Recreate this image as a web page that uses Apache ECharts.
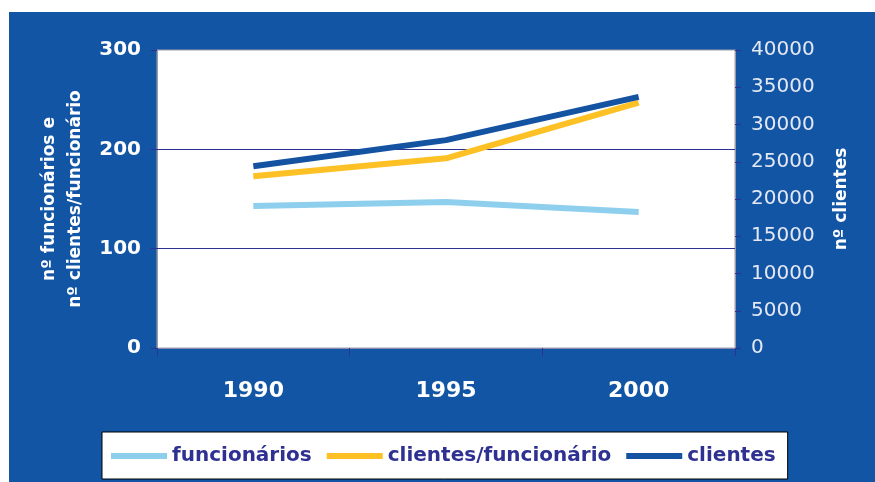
<!DOCTYPE html>
<html>
<head>
<meta charset="utf-8">
<script src="https://cdn.jsdelivr.net/npm/echarts@6/dist/echarts.min.js"></script>
<style>
  html, body { margin: 0; padding: 0; background: #fff; }
  #main { width: 875px; height: 482px; }
</style>
</head>
<body>
<div id="main"></div>
<script>
// valores
var anos = ['1990', '1995', '2000'];
var funcionarios = [143, 147, 137];
var clientesPorFuncionario = [173, 191, 247];
var clientes = [24400, 27900, 33700];

var esqTicks = { min: 0, max: 300, interval: 100 };
var dirTicks = { min: 0, max: 40000, interval: 5000 };
var linhasGrade = [100, 200];

var fundo = '#1155a4';
var navy = '#2e3192';
var fonte = 'DejaVu Sans';

var chart = echarts.init(document.getElementById('main'));

chart.setOption({
  backgroundColor: '#fff',
  animation: false,
  graphic: [{
    type: 'rect',
    z: -10,
    shape: { x: 9, y: 12, width: 866, height: 470 },
    style: { fill: fundo }
  }],
  grid: {
    left: 157, top: 50, right: 140, bottom: 134,
    show: true,
    backgroundColor: '#fff',
    borderColor: '#a0a0a8',
    borderWidth: 1
  },
  legend: {
    left: 102, top: 432,
    padding: [14, 12, 13, 9],
    backgroundColor: '#fff',
    borderColor: '#000',
    borderWidth: 1,
    borderRadius: 0,
    icon: 'rect',
    itemWidth: 56,
    itemHeight: 6,
    itemGap: 15,
    textStyle: { color: navy, fontFamily: fonte, fontWeight: 'bold', fontSize: 20 },
    data: ['funcionários', 'clientes/funcionário', 'clientes']
  },
  xAxis: {
    type: 'category',
    data: anos,
    boundaryGap: true,
    axisLine: { lineStyle: { color: '#8a8ab8', width: 1 } },
    axisTick: { show: true, length: 8, lineStyle: { color: navy } },
    axisLabel: { color: '#fff', fontFamily: fonte, fontWeight: 'bold', fontSize: 22, margin: 32 }
  },
  yAxis: [{
    type: 'value',
    min: esqTicks.min, max: esqTicks.max, interval: esqTicks.interval,
    position: 'left',
    name: 'nº funcionários e\nnº clientes/funcionário',
    nameLocation: 'middle',
    nameRotate: 90,
    nameGap: 66,
    nameTextStyle: { color: '#fff', fontFamily: fonte, fontWeight: 'bold', fontSize: 17, lineHeight: 26 },
    axisLine: { show: true, lineStyle: { color: '#9a9aaa' } },
    axisTick: { show: true, length: 6, lineStyle: { color: navy } },
    axisLabel: { color: '#fff', fontFamily: fonte, fontWeight: 'bold', fontSize: 20, margin: 16 },
    splitLine: { show: false }
  }, {
    type: 'value',
    min: dirTicks.min, max: dirTicks.max, interval: dirTicks.interval,
    position: 'right',
    name: 'nº clientes',
    nameLocation: 'middle',
    nameRotate: 90,
    nameGap: 98,
    nameTextStyle: { color: '#fff', fontFamily: fonte, fontWeight: 'bold', fontSize: 17 },
    axisLine: { show: true, lineStyle: { color: '#9a9aaa' } },
    axisTick: { show: true, length: 6, lineStyle: { color: navy } },
    axisLabel: {
      color: '#e4e8f4', fontFamily: fonte, fontSize: 20, margin: 16,
      formatter: function (v) { return String(v); }
    },
    splitLine: { show: false }
  }],
  series: [{
    name: 'funcionários',
    type: 'line',
    yAxisIndex: 0,
    data: funcionarios,
    symbol: 'none',
    color: '#8ecfee',
    lineStyle: { width: 6, color: '#8ecfee' },
    markLine: {
      silent: true,
      symbol: 'none',
      z: 1,
      label: { show: false },
      lineStyle: { color: navy, width: 1, type: 'solid' },
      data: linhasGrade.map(function (v) { return { yAxis: v }; })
    }
  }, {
    name: 'clientes/funcionário',
    type: 'line',
    yAxisIndex: 0,
    data: clientesPorFuncionario,
    symbol: 'none',
    color: '#fdc126',
    lineStyle: { width: 6, color: '#fdc126' }
  }, {
    name: 'clientes',
    type: 'line',
    yAxisIndex: 1,
    data: clientes,
    symbol: 'none',
    color: '#1452a2',
    lineStyle: { width: 6, color: '#1452a2' }
  }]
});
</script>
</body>
</html>
